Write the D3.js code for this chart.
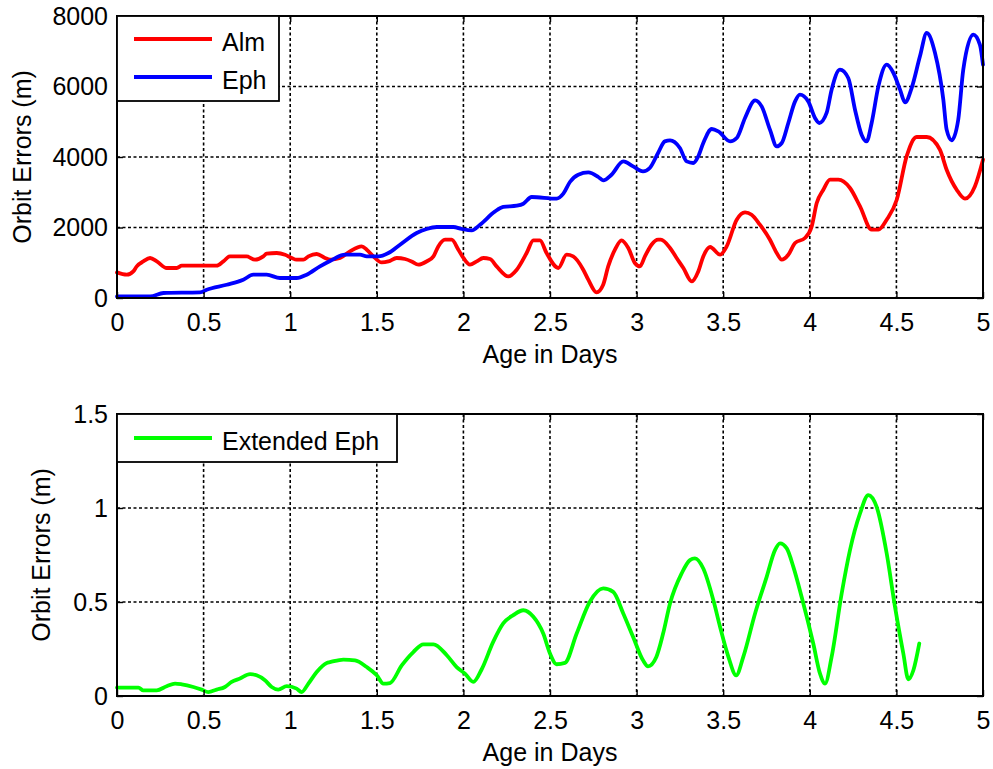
<!DOCTYPE html>
<html>
<head>
<meta charset="utf-8">
<script src="https://cdn.jsdelivr.net/npm/d3@7"></script>
<style>
  html, body { margin: 0; padding: 0; background: #fff; }
  svg { display: block; font-family: "Liberation Sans", Arial, sans-serif; }
</style>
</head>
<body>
<svg id="chart" width="993" height="769"></svg>
<script>
// Orbit error growth versus age of the broadcast data (days)
const xTicks = [0, 0.5, 1, 1.5, 2, 2.5, 3, 3.5, 4, 4.5, 5];
const topYTicks = [0, 2000, 4000, 6000, 8000];
const bottomYTicks = [0, 0.5, 1, 1.5];

// Almanac-based orbit error (m)
const almDays = [0, 0.056, 0.094, 0.114, 0.152, 0.191, 0.23, 0.287, 0.345, 0.374, 0.575, 0.614, 0.652, 0.748, 0.797, 0.845, 0.864, 0.922, 0.97, 1.009, 1.037, 1.076, 1.105, 1.153, 1.201, 1.23, 1.288, 1.345, 1.413, 1.442, 1.48, 1.528, 1.567, 1.615, 1.663, 1.701, 1.74, 1.788, 1.827, 1.855, 1.894, 1.932, 1.971, 2.0, 2.038, 2.077, 2.115, 2.154, 2.192, 2.259, 2.308, 2.365, 2.404, 2.442, 2.48, 2.548, 2.596, 2.634, 2.692, 2.721, 2.769, 2.807, 2.836, 2.875, 2.913, 2.952, 2.99, 3.019, 3.048, 3.086, 3.124, 3.14, 3.193, 3.231, 3.27, 3.318, 3.356, 3.385, 3.424, 3.482, 3.52, 3.578, 3.626, 3.664, 3.712, 3.77, 3.809, 3.838, 3.876, 3.915, 3.972, 4.011, 4.04, 4.078, 4.117, 4.165, 4.232, 4.29, 4.357, 4.396, 4.444, 4.502, 4.559, 4.617, 4.675, 4.751, 4.79, 4.848, 4.896, 4.953, 5.0];
const almErr = [726, 661, 755, 897, 1038, 1135, 1038, 851, 851, 916, 916, 1038, 1180, 1180, 1086, 1180, 1256, 1276, 1228, 1135, 1086, 1086, 1180, 1248, 1135, 1086, 1135, 1322, 1464, 1370, 1180, 1010, 1038, 1135, 1106, 1038, 945, 1038, 1180, 1464, 1654, 1654, 1370, 1135, 945, 1038, 1135, 1106, 897, 613, 803, 1276, 1634, 1634, 1276, 851, 1228, 1180, 803, 519, 159, 377, 897, 1370, 1634, 1418, 993, 897, 1180, 1512, 1654, 1654, 1418, 1135, 851, 471, 755, 1180, 1447, 1228, 1464, 2221, 2429, 2363, 2080, 1654, 1276, 1086, 1228, 1560, 1702, 2031, 2695, 3072, 3356, 3356, 3120, 2598, 1938, 1938, 2221, 2788, 4017, 4567, 4567, 4207, 3640, 3072, 2817, 3166, 3924];

// Ephemeris-based orbit error (m)
const ephDays = [0, 0.191, 0.268, 0.479, 0.518, 0.633, 0.729, 0.787, 0.864, 0.941, 1.037, 1.095, 1.172, 1.23, 1.316, 1.403, 1.442, 1.509, 1.567, 1.634, 1.73, 1.788, 1.846, 1.942, 1.99, 2.048, 2.096, 2.183, 2.23, 2.308, 2.346, 2.394, 2.538, 2.577, 2.615, 2.663, 2.721, 2.779, 2.807, 2.855, 2.923, 2.98, 3.037, 3.076, 3.124, 3.163, 3.193, 3.25, 3.289, 3.327, 3.356, 3.385, 3.434, 3.472, 3.54, 3.578, 3.626, 3.684, 3.722, 3.77, 3.809, 3.838, 3.876, 3.915, 3.943, 3.991, 4.03, 4.055, 4.097, 4.126, 4.174, 4.222, 4.261, 4.299, 4.328, 4.357, 4.396, 4.444, 4.483, 4.521, 4.55, 4.588, 4.636, 4.675, 4.723, 4.771, 4.79, 4.819, 4.857, 4.886, 4.944, 4.982, 5.0];
const ephErr = [45, 45, 142, 159, 235, 377, 519, 661, 661, 567, 567, 661, 897, 1050, 1228, 1228, 1180, 1180, 1276, 1512, 1844, 1958, 2014, 2014, 1958, 1918, 2080, 2457, 2582, 2619, 2675, 2865, 2817, 2959, 3291, 3498, 3563, 3433, 3336, 3498, 3875, 3733, 3592, 3688, 4114, 4443, 4472, 4255, 3875, 3830, 4017, 4397, 4794, 4727, 4443, 4539, 5107, 5606, 5436, 4775, 4301, 4397, 4965, 5578, 5768, 5578, 5107, 4965, 5249, 5910, 6477, 6241, 5342, 4633, 4443, 4965, 6004, 6619, 6383, 5910, 5549, 5957, 6855, 7518, 6950, 5626, 4775, 4472, 5058, 6477, 7470, 7187, 6619];

// Extended ephemeris orbit error (m)
const extDays = [0, 0.124, 0.152, 0.229, 0.287, 0.335, 0.374, 0.441, 0.489, 0.527, 0.575, 0.623, 0.662, 0.71, 0.768, 0.806, 0.854, 0.893, 0.931, 0.98, 1.037, 1.066, 1.105, 1.153, 1.211, 1.23, 1.307, 1.374, 1.442, 1.5, 1.538, 1.576, 1.644, 1.711, 1.769, 1.827, 1.904, 1.961, 2.009, 2.057, 2.105, 2.172, 2.23, 2.288, 2.346, 2.404, 2.461, 2.5, 2.538, 2.586, 2.654, 2.73, 2.807, 2.865, 2.923, 2.98, 3.037, 3.066, 3.114, 3.153, 3.193, 3.26, 3.308, 3.337, 3.385, 3.443, 3.482, 3.53, 3.575, 3.616, 3.684, 3.751, 3.799, 3.828, 3.867, 3.905, 3.953, 4.02, 4.059, 4.088, 4.126, 4.184, 4.232, 4.29, 4.338, 4.386, 4.444, 4.492, 4.54, 4.569, 4.598, 4.632];
const extErr = [0.045, 0.045, 0.030, 0.030, 0.052, 0.066, 0.062, 0.048, 0.034, 0.021, 0.034, 0.048, 0.075, 0.093, 0.116, 0.110, 0.084, 0.048, 0.034, 0.052, 0.039, 0.021, 0.066, 0.128, 0.176, 0.180, 0.194, 0.190, 0.154, 0.110, 0.066, 0.069, 0.163, 0.234, 0.275, 0.275, 0.217, 0.154, 0.119, 0.075, 0.141, 0.288, 0.386, 0.430, 0.456, 0.421, 0.332, 0.226, 0.169, 0.176, 0.332, 0.501, 0.572, 0.554, 0.439, 0.314, 0.190, 0.158, 0.208, 0.332, 0.492, 0.652, 0.723, 0.732, 0.678, 0.510, 0.367, 0.208, 0.110, 0.208, 0.439, 0.634, 0.776, 0.812, 0.785, 0.687, 0.527, 0.279, 0.119, 0.066, 0.208, 0.545, 0.776, 0.971, 1.069, 1.006, 0.758, 0.474, 0.226, 0.089, 0.137, 0.279];

const svg = d3.select("#chart");
const FONT = 25;

function panel(opts) {
  const { left, right, top, bottom, yMax, yTicks, series, legend, yLabelX } = opts;
  const x = d3.scaleLinear().domain([0, 5]).range([left, right]);
  const y = d3.scaleLinear().domain([0, yMax]).range([bottom, top]);
  const g = svg.append("g");

  // dotted grid
  g.append("g").selectAll("line").data(xTicks.slice(1, -1)).join("line")
    .attr("x1", d => x(d)).attr("x2", d => x(d))
    .attr("y1", top).attr("y2", bottom)
    .attr("stroke", "#000").attr("stroke-width", 1.6).attr("stroke-dasharray", "3,2.5");
  g.append("g").selectAll("line").data(yTicks.slice(1, -1)).join("line")
    .attr("x1", left).attr("x2", right)
    .attr("y1", d => y(d)).attr("y2", d => y(d))
    .attr("stroke", "#000").attr("stroke-width", 1.6).attr("stroke-dasharray", "3,2.5");

  // data lines
  series.forEach(s => {
    const pts = s.days.map((d, i) => [d, s.vals[i]]);
    g.append("path").datum(pts)
      .attr("fill", "none").attr("stroke", s.color)
      .attr("stroke-width", 3.8).attr("stroke-linejoin", "round").attr("stroke-linecap", "round")
      .attr("d", d3.line().x(d => x(d[0])).y(d => y(d[1])).curve(d3.curveMonotoneX));
  });

  // axes with inward ticks on all four sides
  const fmt = d3.format("~g");
  const styleAxis = sel => {
    sel.select(".domain").remove();
    sel.selectAll(".tick line").attr("stroke", "#000").attr("stroke-width", 1.4);
    sel.selectAll("text").attr("font-size", FONT).attr("fill", "#000")
      .attr("font-family", "'Liberation Sans', Arial, sans-serif");
  };
  g.append("g").attr("transform", `translate(0,${bottom})`)
    .call(d3.axisBottom(x).tickValues(xTicks).tickFormat(fmt).tickSize(-6).tickPadding(15))
    .call(styleAxis);
  g.append("g").attr("transform", `translate(0,${top})`)
    .call(d3.axisTop(x).tickValues(xTicks).tickFormat("").tickSize(-6))
    .call(styleAxis);
  g.append("g").attr("transform", `translate(${left},0)`)
    .call(d3.axisLeft(y).tickValues(yTicks).tickFormat(fmt).tickSize(-6).tickPadding(9))
    .call(styleAxis);
  g.append("g").attr("transform", `translate(${right},0)`)
    .call(d3.axisRight(y).tickValues(yTicks).tickFormat("").tickSize(-6))
    .call(styleAxis);

  // frame
  g.append("rect").attr("x", left).attr("y", top)
    .attr("width", right - left).attr("height", bottom - top)
    .attr("fill", "none").attr("stroke", "#000").attr("stroke-width", 2);

  // axis titles
  g.append("text").attr("x", (left + right) / 2).attr("y", bottom + 65)
    .attr("text-anchor", "middle").attr("font-size", FONT).text("Age in Days");
  g.append("text")
    .attr("transform", `translate(${yLabelX},${(top + bottom) / 2}) rotate(-90)`)
    .attr("text-anchor", "middle").attr("font-size", FONT).text("Orbit Errors (m)");

  // legend
  const lg = g.append("g");
  lg.append("rect").attr("x", left).attr("y", top)
    .attr("width", legend.width).attr("height", legend.height)
    .attr("fill", "#fff").attr("stroke", "#000").attr("stroke-width", 1.8);
  series.forEach((s, i) => {
    const ly = top + legend.first + i * legend.step;
    lg.append("line").attr("x1", left + 17).attr("x2", left + 95)
      .attr("y1", ly).attr("y2", ly)
      .attr("stroke", s.color).attr("stroke-width", 3.8);
    lg.append("text").attr("x", left + 105).attr("y", ly + 12)
      .attr("font-size", FONT).text(s.name);
  });
}

panel({
  left: 117, right: 983, top: 16, bottom: 298, yMax: 8000, yTicks: topYTicks, yLabelX: 31,
  series: [
    { name: "Alm", color: "#ff0000", days: almDays, vals: almErr },
    { name: "Eph", color: "#0000ff", days: ephDays, vals: ephErr }
  ],
  legend: { width: 162, height: 85, first: 23, step: 38 }
});

panel({
  left: 117, right: 983, top: 414, bottom: 696, yMax: 1.5, yTicks: bottomYTicks, yLabelX: 50,
  series: [
    { name: "Extended Eph", color: "#00ff00", days: extDays, vals: extErr }
  ],
  legend: { width: 280, height: 48, first: 24, step: 0 }
});
</script>
</body>
</html>
